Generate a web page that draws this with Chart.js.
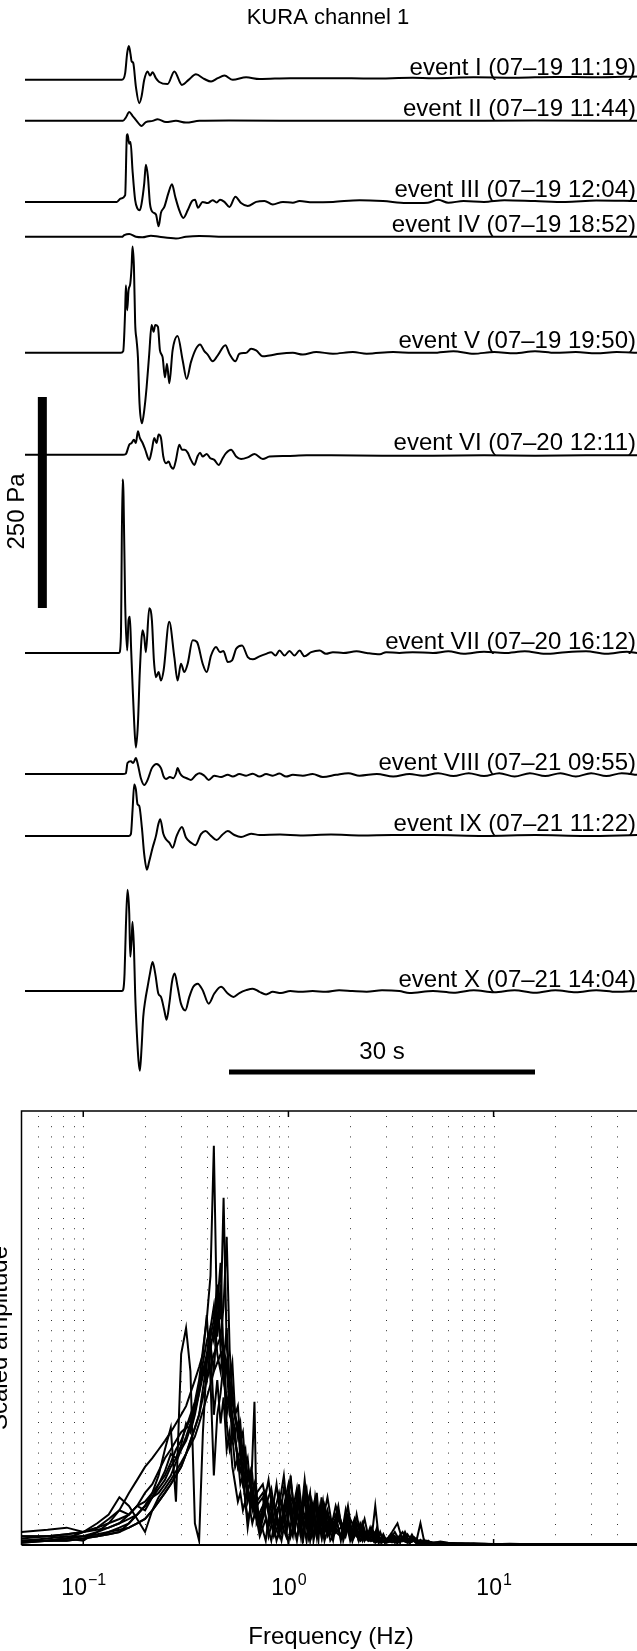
<!DOCTYPE html>
<html>
<head>
<meta charset="utf-8">
<title>KURA channel 1</title>
<script src="https://cdn.jsdelivr.net/npm/chart.js@4.4.1/dist/chart.umd.min.js"></script>
<style>
  html, body { margin: 0; padding: 0; background: #fff; }
  body { width: 637px; height: 1651px; position: relative; overflow: hidden; }
  canvas { position: absolute; left: 0; }
  #waves { top: 0; }
  #spec { top: 1090px; }
</style>
</head>
<body>
<canvas id="waves" width="637" height="1090"></canvas>
<canvas id="spec" width="637" height="561"></canvas>
<script>
// ============================
// Waveforms: [time s, pressure Pa]
// ============================
const traceI = [[0,-1],[9.5,-1],[9.82,7],[10.02,31],[10.18,39],[10.35,29],[10.45,21],[10.61,19],[10.87,-9],[11.2,-28.6],[11.43,-20.6],[11.69,-1],[12.02,9],[12.25,4],[12.51,8],[12.83,1],[13.16,-3.6],[13.98,-6],[14.64,9],[15.39,-7],[16.04,-1],[16.76,5.5],[17.58,0],[18.24,-3],[18.9,1],[19.55,4],[20.37,-1],[21.68,2],[22.99,0],[26,1],[30,1],[34,0.5],[38,1.5],[40,1],[44,2],[48,1.5],[52,2.5],[56,2],[60,3]];
const traceII = [[0,-1],[9.6,-1],[9.89,3],[10.22,9.5],[10.54,5],[10.94,-1],[11.43,-7],[11.85,-2.4],[12.51,-1],[13.0,1],[13.82,-2.4],[14.8,-1],[15.78,-3],[17.1,-1],[20,-0.5],[30,-1],[40,-1],[50,-0.5],[60,-1]];
const traceIII = [[0,-1],[9.0,-1],[9.4,3],[9.82,7],[9.99,78],[10.05,79],[10.22,68],[10.35,70],[10.54,36.5],[10.8,1],[11.03,-9],[11.26,-11],[11.43,-3],[11.69,21],[11.85,43],[12.05,29],[12.25,-3],[12.51,-13],[12.84,-16],[13.1,-30],[13.33,-14],[13.66,-7],[14.05,9],[14.41,20],[14.73,5],[15.13,-11],[15.52,-20],[15.95,-11],[16.37,0],[16.67,1.6],[16.96,-8],[17.42,-1],[17.91,-2.4],[18.4,1],[18.79,-1.6],[19.12,1.6],[19.55,-1],[20.04,-7],[20.63,5],[21.18,-2.4],[21.84,-6],[22.66,-1],[23.48,0],[24.29,-4],[25.28,-1],[26.26,-2],[26.92,0],[28.2,-1.5],[30.2,-1],[32.8,1],[35.1,0],[37.4,-2.4],[39.5,-2],[40.5,1.5],[41.5,-2],[43,0],[45,-1],[47,1],[50,0],[53,-1],[56,0.5],[60,0]];
const traceIV = [[0,-1],[9.5,-1],[9.73,1],[10.22,2.4],[10.87,-1],[11.5,-1.6],[12.35,0.4],[13.16,-1],[14.8,-3],[15.78,-1],[17.09,0],[20,-1],[30,-1],[40,-1],[50,-1],[60,-1]];
const traceV = [[0,-1],[9.4,-1],[9.63,1],[9.82,49.6],[9.89,79],[10.02,49.6],[10.15,73],[10.32,81],[10.45,101],[10.54,125],[10.68,101],[10.8,34],[10.94,14],[11.07,-6],[11.23,-61.5],[11.46,-84.5],[11.69,-69],[11.92,-42],[12.18,-2],[12.41,32],[12.61,24],[12.77,32],[13.03,30],[13.23,2],[13.49,-6],[13.72,-30],[13.92,-14],[14.15,-37],[14.47,2],[14.96,19],[15.46,-10],[15.85,-32],[16.27,-12],[16.77,4],[17.16,9],[17.58,1],[17.91,-3],[18.4,-11],[18.9,-4],[19.65,8],[20.04,-2],[20.63,-11],[21.02,-2],[21.68,-1],[22.17,4],[22.66,2],[23.31,-5],[23.97,-4],[24.95,-2],[26.26,-1],[27.24,-3],[28.55,0],[30.19,-2],[32.15,0],[33.5,-2],[36.1,0],[38,-1],[40,-1],[42,1],[44,-2],[46,0],[48,-1.5],[50,1],[52,-1],[54,0],[56,-1.5],[58,0],[60,-1]];
const traceVI = [[0,-1],[9.6,-1],[9.89,0],[10.22,11],[10.45,13],[10.68,17],[10.87,13],[11.07,27],[11.26,19],[11.53,13],[11.79,5],[12.18,-7],[12.44,5],[12.67,19],[12.9,13],[13.1,23],[13.33,19],[13.56,-3],[13.82,-11],[14.08,-9],[14.31,-15],[14.54,-17.5],[14.8,-7],[15.13,11],[15.39,5],[15.65,5],[15.95,1.6],[16.27,-7],[16.6,-13],[16.93,-2.4],[17.16,1.6],[17.42,-3],[17.81,0],[18.17,-5],[18.56,-7],[18.99,-13],[19.38,-5],[19.71,1],[20.2,5],[20.7,-3],[21.18,-6],[21.84,-4],[22.5,0],[23.31,-6],[23.97,-3],[25.6,-2.4],[27.6,-1.6],[30,-1.6],[35,-2],[40,-2],[45,-1.5],[50,-2],[55,-1.5],[60,-1.5]];
const traceVII = [[0,0],[9.23,0],[9.4,19],[9.56,205.6],[9.66,186],[9.82,59],[10.02,3],[10.15,39],[10.28,43],[10.41,3],[10.54,-36.5],[10.71,-84],[10.87,-112],[11.07,-84],[11.26,-21],[11.53,27],[11.69,19],[11.85,1],[12.18,53],[12.44,39],[12.64,-9],[12.84,-28.6],[13.1,-22.6],[13.33,-32.6],[13.59,-20.6],[14.14,37],[14.64,-5],[14.96,-32.6],[15.29,-12.7],[15.62,-22.6],[15.95,-12.7],[16.44,15],[16.86,13],[17.42,-12.7],[17.81,-22.6],[18.24,-3],[18.73,7],[19.12,1],[19.45,2.4],[19.88,-10.7],[20.3,-8.7],[20.7,5],[21.28,9],[21.84,-4.8],[22.33,-7.5],[22.99,-4],[23.64,-1],[24.13,1],[24.56,-3],[24.95,3],[25.44,-3],[25.93,2.4],[26.42,-3],[26.92,3],[27.4,-4],[28.06,1],[28.88,3],[29.5,-1],[30.19,1],[31.2,0],[32.5,2],[33.5,0],[34.8,-1.6],[35.4,1],[36.7,0],[38.0,1],[40,0],[41.5,2],[43,-1],[45,1.5],[47,0],[49,2],[51,-1],[53,1],[55,2],[57,-1],[59,1.5],[60,0]];
const traceVIII = [[0,0],[9.6,0],[9.89,1],[10.05,13],[10.38,15],[10.61,13],[10.87,19],[11.07,11],[11.36,-5],[11.69,-13],[12.02,-7],[12.44,7],[12.9,12],[13.33,7],[13.59,-3],[13.82,-6],[14.21,-3.6],[14.54,-5],[14.8,0.4],[14.96,7],[15.19,1],[15.46,-3],[15.85,-5],[16.27,-7],[16.77,-1],[17.1,1],[17.58,-2],[18.01,-7],[18.56,-2],[19.22,-3.6],[19.88,-1],[20.37,-3],[21.02,0],[21.68,-2],[22.33,0.4],[22.99,-3],[23.64,0],[24.29,-2],[24.95,0.5],[25.6,-3],[26.26,-1],[27.24,-2],[28.2,0],[29.2,-3.6],[30.5,-1],[31.7,1],[32.8,-2],[34.5,0],[36.1,-3],[37.7,0],[39,-2],[40.5,1],[42,-2.5],[43.5,1],[45,-2.5],[46.5,1],[48,-3],[49.5,1],[51,-2.5],[52.5,1],[54,-3],[55.5,1],[57,-2.5],[58.5,1],[60,-1]];
const traceIX = [[0,-1],[10.2,-1],[10.38,1],[10.54,28.6],[10.71,60],[10.87,54],[11.03,36.5],[11.2,34.5],[11.46,8.7],[11.69,-23],[11.95,-41],[12.18,-31],[12.51,-15],[12.84,-1],[13.07,12.7],[13.26,18.7],[13.56,1.6],[13.82,-5],[14.15,-9],[14.47,-15],[14.87,-1],[15.39,9.5],[15.78,-3],[16.27,-9],[16.7,-12],[17.25,1],[17.68,4.8],[18.24,-1],[18.79,-6],[19.32,0],[19.88,4.8],[20.53,0],[21.18,-2.4],[22.17,1.6],[23,0],[25,0.5],[27,-0.5],[30,0.5],[33,-0.5],[36,0],[40,0],[45,-1],[50,0],[55,-1],[60,0]];
const traceX = [[0,0],[9.5,0],[9.63,1.6],[9.76,20.6],[9.89,76],[10.05,120],[10.22,92],[10.32,40.5],[10.45,60],[10.54,82],[10.68,52],[10.8,-3],[10.97,-51],[11.13,-82.6],[11.26,-94.5],[11.43,-67],[11.59,-31],[11.79,-11],[12.02,5],[12.25,20.6],[12.51,34.5],[12.77,20.6],[13.07,-3],[13.33,-7],[13.66,-23],[13.88,-34],[14.15,-15],[14.41,10.7],[14.67,20.6],[14.96,5],[15.29,-15],[15.72,-23],[16.11,-7],[16.5,5],[16.93,8.7],[17.42,1],[18.01,-15],[18.56,-3],[19.22,5],[19.88,-3],[20.43,-7],[21.02,-2.4],[21.68,1],[22.33,2.8],[22.99,-1],[23.64,-4],[24.29,-1],[25.1,-2.4],[26,0],[27,-1],[28.2,0],[29.5,-1],[30.8,1],[32.1,0],[33.5,-0.8],[35,1],[36.7,0],[37.7,-2.4],[40,0],[42,-2],[44,1],[46,-1.5],[48,1],[50,-2],[52,1],[54,-1.5],[56,1],[58,-1],[60,0]];

const eventNames = [
  'event I (07\u201319 11:19)', 'event II (07\u201319 11:44)', 'event III (07\u201319 12:04)',
  'event IV (07\u201319 18:52)', 'event V (07\u201319 19:50)', 'event VI (07\u201320 12:11)',
  'event VII (07\u201320 16:12)', 'event VIII (07\u201321 09:55)', 'event IX (07\u201321 11:22)',
  'event X (07\u201321 14:04)'
];

// ============================
// Spectra: scaled amplitude (%), two frequency grids
// ============================
const freqA = [0.05,0.067,0.083,0.1,0.117,0.133,0.15,0.167,0.183,0.2,0.217,0.233,0.25,0.267,0.283,0.3,0.317,0.333,0.35,0.367,
  0.383,0.4,0.417,0.433,0.45,0.467,0.483,0.5,0.517,0.533,0.55,0.567,0.583,0.6,0.617,0.633,0.65,0.667,0.683,0.7,
  0.75,0.8,0.85,0.9,0.95,1,1.05,1.1,1.15,1.2,1.25,1.3,1.35,1.4,1.45,1.5,1.6,1.7,1.8,1.9,2,2.1,2.2,2.3,2.4,2.5,2.6,2.7,2.8,2.9,3,
  3.2,3.4,3.6,3.8,4,4.2,4.4,4.6,4.8,5,5.5,6,7,8,10,12,15,20,25,30,40,50];
const freqB = [0.05,0.067,0.083,0.1,0.117,0.133,0.15,0.167,0.183,0.2,0.217,0.233,0.25,0.267,0.283,0.3,0.317,0.333,0.35,0.367,
  0.383,0.4,0.417,0.433,0.45,0.467,0.483,0.5,0.517,0.533,0.55,0.567,0.583,0.6,0.617,0.633,0.65,0.667,0.683,0.7,
  0.725,0.775,0.825,0.875,0.925,0.975,1.025,1.075,1.125,1.175,1.225,1.275,1.325,1.375,1.425,1.475,1.55,1.65,1.75,1.85,1.95,2.05,2.15,2.25,2.35,2.45,2.55,2.65,2.75,2.85,2.95,
  3.1,3.3,3.5,3.7,3.9,4.1,4.3,4.5,4.7,4.9,5.25,5.75,6.5,7.5,9,11,13.5,17.5,22.5,30,40,50];
const specA = [1,1.5,2,2,3,4,5,7,9,12,14,17,20,22,24,26,27,30,33,38,45,52,62,92,48,60,40,30,34,24,26,18,20,14,16,10,12,8,10,6,
  9,4,10,3,8,12,4,9,2,11,5,8,3,7,2,9,4,6,2,5,3,6,2,4,1.5,4,1,3,1,2.5,1,
  2,1,1.5,0.8,1.2,0.6,1,0.5,0.8,0.5,0.4,0.4,0.3,0.3,0.2,0.2,0.2,0.1,0.1,0.1,0.1,0.1];
const specB = [2,2,1.5,2,2.5,3,4,5,7,9,12,14,16,19,22,24,27,29,32,36,40,44,50,47,58,52,80,46,38,42,30,25,28,20,22,15,17,12,14,9,
  5,12,6,14,4,9,15,7,3,10,13,5,9,2,8,6,11,3,7,4,9,2,5,3,6,2,4,1,3,2,1.5,
  1,3,0.8,2,0.5,1.5,0.6,1,0.4,0.7,0.3,0.5,0.3,0.2,0.3,0.2,0.1,0.1,0.1,0.1,0.1,0.1];
const specC = [0.5,1,1,1.5,2,2.5,3,4,5,6,8,10,12,14,16,18,21,24,27,30,36,42,46,40,52,48,55,71,45,35,30,32,24,26,18,20,14,16,10,12,
  14,7,3,9,16,5,2,12,8,4,10,3,11,6,2,7,3,9,5,2,6,4,1,5,2,3,1.5,4,1,2,1,
  3,5,1,2.5,1,1.5,0.5,1.2,0.3,0.6,0.5,0.3,0.4,0.2,0.2,0.1,0.2,0.1,0.1,0.1,0.1,0.1];
const specD = [3,3.5,4,3,4,6,8,7,9,8,11,14,17,21,20,23,28,26,30,35,41,38,45,50,55,65,42,50,36,30,26,28,20,22,17,12,15,10,8,12,
  3,9,13,5,1,7,10,3,14,6,1,9,5,12,3,4,8,2,6,3,4,1,7,2,3,1,2,3,0.5,2,1.5,
  1.5,0.5,2,1,0.4,1.8,0.8,0.3,1,0.4,0.6,0.2,0.3,0.3,0.1,0.2,0.1,0.1,0.1,0.1,0.1,0.1];
const specE = [1,1,1.5,1,3,5,8,12,15,18,20,22,24,26,28,30,32,35,38,41,44,53,38,16,30,35,42,28,22,25,18,20,14,16,10,13,9,11,7,9,
  11,2,7,12,6,0.5,8,13,4,7,2,10,6,1,11,3,5,7,1,8,2,3,5,1,3,2,2,1,3,1,1,
  2.5,1.5,3,1,2,0.8,5,0.6,1,0.4,0.8,0.5,0.3,0.4,0.2,0.3,0.2,0.2,0.1,0.1,0.1,0.1];
const specF = [1.5,2,2.5,3,4,5,6,7,9,10,12,16,22,27,10,44,50,40,5,1,26,42,46,30,38,28,34,22,26,18,14,10,12,8,10,6,8,5,7,6,
  2,6,1,8,10,3,16,5,10,1,7,4,2,8,5,10,2,4,9,1,5,3,2,4,1,3,2,9,2,0.5,1,
  0.8,2,0.5,3,0.6,1,0.4,0.8,0.3,0.6,0.2,0.4,0.2,0.2,0.2,0.1,0.1,0.1,0.1,0.1,0.1,0.1];
const specG = [2,2,2.5,3,3.5,4,5,6,7,9,11,13,15,18,20,22,24,27,31,35,39,43,48,52,60,45,38,42,30,28,24,20,22,16,10,4,8,20,33,5,
  8,15,5,2,9,14,6,1,7,12,2,6,10,4,7,1,6,3,4,6,1,4,2,3,2,1,3,1,1.5,1,0.5,
  1,0.4,1.8,0.6,1.4,0.4,0.9,0.6,0.5,0.3,0.5,0.2,0.3,0.1,0.2,0.1,0.1,0.1,0.1,0.1,0.1,0.1];
const specH = [1,1,1,1.5,2,2.5,3,5,7,9,11,12,14,16,19,22,25,28,32,37,42,47,50,55,44,40,46,32,36,27,24,20,17,19,14,12,10,11,8,9,
  6,1,11,7,3,10,2,6,11,0.5,8,12,1,5,9,2,7,5,3,2,7,1,3,5,1,2,1,2,1,1.5,0.5,
  2,1.2,0.6,2.2,0.8,1.2,0.5,0.7,0.6,0.3,0.4,0.3,0.2,0.3,0.2,0.1,0.1,0.1,0.1,0.1,0.1,0.1];
const specI = [0.5,1,1.5,2,2,3,3.5,4,5,6,8,10,12,14,16,18,21,24,27,30,34,38,41,44,46,48,44,40,36,33,29,26,23,21,18,16,14,12,11,10,
  12,8,2,5,13,9,4,2,6,15,7,2,4,3,6,8,1,3,2,5,2,5,1,2,3,1,1,2,0.5,1,1,
  0.6,1.6,1,0.5,2.4,0.5,1.2,0.4,0.7,0.5,0.3,0.4,0.2,0.2,0.1,0.2,0.1,0.1,0.1,0.1,0.1,0.1];
const specJ = [1,1,1.5,3,5,7,11,9,6,3,8,11,13,15,17,19,21,23,25,28,31,34,37,40,42,44,45,42,38,34,30,27,24,21,18,16,14,12,10,9,
  4,10,8,1,5,2,11,9,5,3,6,1,7,9,4,2,5,1,8,3,4,2,3,1,2,1,2,0.5,1,1,0.5,
  1.4,0.8,1.2,1.6,0.5,1,0.6,0.9,0.4,0.6,0.3,0.3,0.2,0.2,0.2,0.1,0.1,0.1,0.1,0.1,0.1,0.1];

const gridFreqs = [0.06,0.07,0.08,0.09,0.1,0.2,0.3,0.4,0.5,0.6,0.7,0.8,0.9,1,2,3,4,5,6,7,8,9,10,20,30,40];
const majorFreqs = [0.1, 1, 10];
const majorExps = ['\u22121', '0', '1'];

// ============================
// Layout (plot units)
// ============================
const traceOffsets = [-93.6, -142.2, -238.2, -279.6, -417.1, -537.9, -773.7, -917.1, -989.4, -1174.2];
const scaleBarPa = 250, scaleBarTop = -470.4, scaleBarTime = 1.7;
const timeBarSec = [20, 50], timeBarLevel = -1270.2;

const FONT = '"Liberation Sans", Arial, Helvetica, sans-serif';

function text(ctx, s, x, y, size, align, rot) {
    ctx.save();
    ctx.font = `${size}px ${FONT}`;
    ctx.fillStyle = "#000";
    ctx.textAlign = align || "center";
    ctx.textBaseline = "alphabetic";
    ctx.translate(x, y);
    if (rot) ctx.rotate(rot);
    ctx.fillText(s, 0, 0);
    ctx.restore();
}

// ============================
// Top: waveforms
// ============================
const traces = [traceI, traceII, traceIII, traceIV, traceV, traceVI, traceVII, traceVIII, traceIX, traceX];

const waveDatasets = traces.map((tr, i) => ({
    data: tr.map(([t, p]) => ({ x: t, y: p + traceOffsets[i] })),
    borderColor: "#000", borderWidth: 2, pointRadius: 0,
    cubicInterpolationMode: "monotone", fill: false
}));
waveDatasets.push({
    data: [{ x: scaleBarTime, y: scaleBarTop }, { x: scaleBarTime, y: scaleBarTop - scaleBarPa }],
    borderColor: "#000", borderWidth: 9, borderCapStyle: "butt", pointRadius: 0
});
waveDatasets.push({
    data: [{ x: timeBarSec[0], y: timeBarLevel }, { x: timeBarSec[1], y: timeBarLevel }],
    borderColor: "#000", borderWidth: 5, borderCapStyle: "butt", pointRadius: 0
});

const waveText = {
    id: "waveText",
    afterDatasetsDraw(chart) {
        const { ctx, scales: { x, y } } = chart;
        text(ctx, "KURA channel 1", 328, 24, 22);
        eventNames.forEach((name, i) => {
            text(ctx, name, 636, y.getPixelForValue(traceOffsets[i]) - 4, 24, "right");
        });
        const barMid = y.getPixelForValue(scaleBarTop - scaleBarPa / 2);
        text(ctx, "250 Pa", 24, barMid + 9, 24, "center", -Math.PI / 2);
        const tMid = (timeBarSec[0] + timeBarSec[1]) / 2;
        text(ctx, "30 s", x.getPixelForValue(tMid), y.getPixelForValue(timeBarLevel) - 13, 24);
    }
};

new Chart(document.getElementById("waves"), {
    type: "line",
    data: { datasets: waveDatasets },
    options: {
        responsive: false, animation: false, events: [],
        layout: { padding: { left: 25, right: 0, top: 0, bottom: 0 } },
        scales: {
            x: { type: "linear", display: false, min: 0, max: 60 },
            y: { type: "linear", display: false, min: -1291.5, max: 0 }
        },
        plugins: { legend: { display: false }, tooltip: { enabled: false } }
    },
    plugins: [waveText]
});

// ============================
// Bottom: spectra
// ============================
const spectra = [specA, specB, specC, specD, specE, specF, specG, specH, specI, specJ];

const specFrame = {
    id: "specFrame",
    beforeDatasetsDraw(chart) {
        const { ctx, chartArea: a, scales: { x } } = chart;
        ctx.save();
        ctx.strokeStyle = "#333"; ctx.lineWidth = 1; ctx.setLineDash([1, 9.2]);
        gridFreqs.forEach(f => {
            const px = Math.round(x.getPixelForValue(f)) + 0.5;
            ctx.beginPath(); ctx.moveTo(px, a.top + 5); ctx.lineTo(px, a.bottom); ctx.stroke();
        });
        ctx.restore();
    },
    afterDatasetsDraw(chart) {
        const { ctx, chartArea: a, scales: { x } } = chart;
        ctx.save();
        ctx.strokeStyle = "#000";
        ctx.lineWidth = 1.5;
        ctx.beginPath();
        ctx.moveTo(a.right, a.top); ctx.lineTo(a.left, a.top); ctx.lineTo(a.left, a.bottom);
        ctx.stroke();
        ctx.lineWidth = 2;
        ctx.beginPath(); ctx.moveTo(a.left, a.bottom); ctx.lineTo(a.right, a.bottom); ctx.stroke();
        ctx.lineWidth = 1.5;
        majorFreqs.forEach((f, i) => {
            const px = x.getPixelForValue(f);
            ctx.beginPath();
            ctx.moveTo(px, a.top); ctx.lineTo(px, a.top + 6);
            ctx.moveTo(px, a.bottom); ctx.lineTo(px, a.bottom - 6);
            ctx.stroke();
            ctx.font = `23px ${FONT}`;
            const w1 = ctx.measureText("10").width;
            ctx.font = `16px ${FONT}`;
            const w2 = ctx.measureText(majorExps[i]).width;
            const x0 = px - (w1 + w2) / 2;
            text(ctx, "10", x0, a.bottom + 50, 23, "left");
            text(ctx, majorExps[i], x0 + w1 + 1, a.bottom + 40, 16, "left");
        });
        ctx.restore();
        text(ctx, "Frequency (Hz)", 331, a.bottom + 99, 24);
        text(ctx, "Scaled amplitude", 7, (a.top + a.bottom) / 2 + 10, 24, "center", -Math.PI / 2);
    }
};

new Chart(document.getElementById("spec"), {
    type: "line",
    data: {
        datasets: spectra.map((s, i) => {
            const f = i % 2 === 0 ? freqA : freqB;
            return {
                data: s.map((v, k) => ({ x: f[k], y: v })),
                borderColor: "#000", borderWidth: 2, pointRadius: 0, tension: 0, fill: false
            };
        })
    },
    options: {
        responsive: false, animation: false, events: [],
        layout: { padding: { left: 21.5, right: 0, top: 21, bottom: 106 } },
        scales: {
            x: { type: "logarithmic", display: false, min: 0.05, max: 50 },
            y: { type: "linear", display: false, min: 0, max: 100 }
        },
        plugins: { legend: { display: false }, tooltip: { enabled: false } }
    },
    plugins: [specFrame]
});
</script>
</body>
</html>
